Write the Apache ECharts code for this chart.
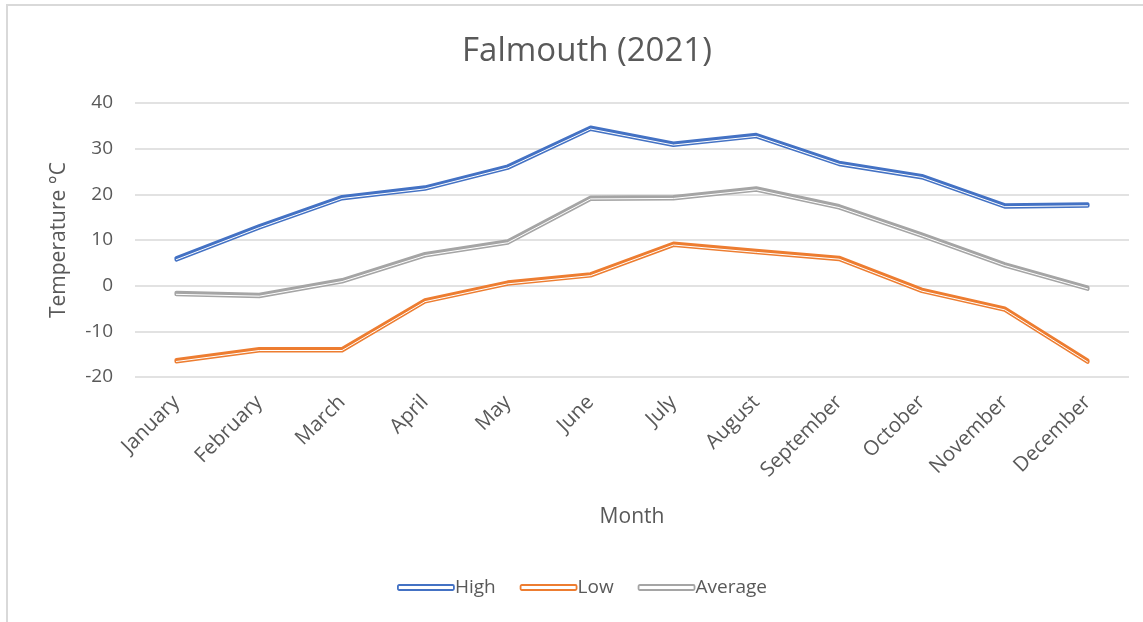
<!DOCTYPE html>
<html>
<head>
<meta charset="utf-8">
<script src="https://cdn.jsdelivr.net/npm/echarts@6/dist/echarts.min.js"></script>
<style>
  html, body { margin: 0; padding: 0; background: #fff; }
  #frame { position: absolute; left: 6px; top: 4px; width: 1137px; height: 618px;
           border-left: 2px solid #d9d9d9; border-top: 2px solid #d9d9d9; }
  #chart { position: absolute; left: 0; top: 0; width: 1143px; height: 622px; }
</style>
</head>
<body>
<div id="frame"></div>
<div id="chart"></div>
<script>
// data
const months = ['January', 'February', 'March', 'April', 'May', 'June', 'July',
  'August', 'September', 'October', 'November', 'December']
const high = [5.7, 12.7, 19.1, 21.2, 25.8, 34.3, 30.8, 32.7, 26.6, 23.7, 17.3, 17.5]
const low = [-16.6, -14.2, -14.2, -3.5, 0.4, 2.2, 8.9, 7.3, 5.8, -1.2, -5.3, -16.7]
const average = [-1.9, -2.3, 0.9, 6.6, 9.4, 19.0, 19.1, 21.0, 17.1, 10.9, 4.4, -0.7]
const yTicks = [-20, -10, 0, 10, 20, 30, 40]

const seriesList = [
  { name: 'High', values: high, color: '#4472C4' },
  { name: 'Low', values: low, color: '#ED7D31' },
  { name: 'Average', values: average, color: '#A5A5A5' }
]

const font = 'Open Sans'
const textColor = '#595959'

// each series is drawn twice: thick colour line (shadow thickens top side)
// + thin white core, like Excel's double compound line
let series = []
seriesList.forEach(s => {
  series.push({
    name: s.name, type: 'line', data: s.values, symbol: 'none',
    lineStyle: {
      color: s.color, width: 4, cap: 'round', join: 'round',
      shadowColor: s.color, shadowBlur: 0, shadowOffsetY: -1.5
    },
    itemStyle: { color: s.color }, z: 2
  })
  series.push({
    name: s.name + '_core', type: 'line', data: s.values, symbol: 'none',
    lineStyle: { color: '#fff', width: 1, cap: 'round', join: 'round' },
    silent: true, z: 3
  })
})

let myChart = echarts.init(document.getElementById('chart'))
myChart.setOption({
  animation: false,
  textStyle: { fontFamily: font },
  title: {
    text: 'Falmouth (2021)', left: 582, top: 30, textAlign: 'center',
    textStyle: { fontFamily: font, fontSize: 33, fontWeight: 'normal', color: textColor }
  },
  legend: {
    left: 392, top: 573, itemWidth: 56, itemHeight: 5, itemGap: 24,
    icon: 'roundRect',
    textStyle: { fontFamily: font, fontSize: 19, color: textColor, padding: [0, 0, 0, -4] },
    data: seriesList.map(s => ({
      name: s.name,
      itemStyle: { color: '#fff', borderColor: s.color, borderWidth: 1.8 }
    }))
  },
  grid: { left: 135, right: 14, top: 103, bottom: 245, containLabel: false },
  xAxis: {
    type: 'category', data: months,
    name: 'Month', nameLocation: 'middle', nameGap: 130,
    nameTextStyle: { fontFamily: font, fontSize: 21, color: textColor },
    axisLine: { show: false }, axisTick: { show: false },
    axisLabel: { rotate: 45, margin: 22, fontSize: 20.5, color: textColor, fontFamily: font, interval: 0 }
  },
  yAxis: {
    type: 'value', min: yTicks[0], max: yTicks[yTicks.length - 1], interval: 10,
    name: 'Temperature °C', nameLocation: 'middle', nameGap: 65, nameRotate: 90,
    nameTextStyle: { fontFamily: font, fontSize: 21, color: textColor },
    axisLine: { show: false }, axisTick: { show: false },
    axisLabel: { margin: 22, fontSize: 19, color: textColor, fontFamily: font },
    splitLine: { lineStyle: { color: '#d9d9d9', width: 1.5 } }
  },
  series: series
})
window.onresize = function() {
  myChart.resize()
}
</script>
</body>
</html>
